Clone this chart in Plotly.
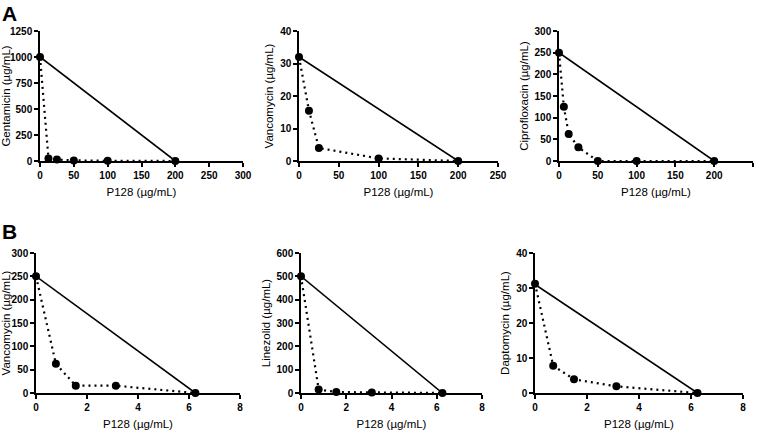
import plotly.graph_objects as go

W, H = 760, 430

# ---- data ----
# Panel A1: Gentamicin
a1_x = [0, 12.5, 25, 50, 100, 200]
a1_y = [1000, 25, 14, 6, 2, 0]
a1_line_x = [0, 200]
a1_line_y = [1000, 0]
# Panel A2: Vancomycin
a2_x = [0, 12.5, 25, 100, 200]
a2_y = [32, 15.5, 4, 0.8, 0]
a2_line_x = [0, 200]
a2_line_y = [32, 0]
# Panel A3: Ciprofloxacin
a3_x = [0, 6.25, 12.5, 25, 50, 100, 200]
a3_y = [250, 125, 62.5, 31.5, 0, 0, 0]
a3_line_x = [0, 200]
a3_line_y = [250, 0]
# Panel B1: Vancomycin
b1_x = [0, 0.78, 1.56, 3.13, 6.25]
b1_y = [250, 62.5, 15.6, 15.6, 0]
b1_line_x = [0, 6.25]
b1_line_y = [250, 0]
# Panel B2: Linezolid
b2_x = [0, 0.78, 1.56, 3.13, 6.25]
b2_y = [500, 15, 4, 2, 0]
b2_line_x = [0, 6.25]
b2_line_y = [500, 0]
# Panel B3: Daptomycin
b3_x = [0, 0.7, 1.5, 3.13, 6.25]
b3_y = [31.25, 7.8, 3.9, 1.9, 0]
b3_line_x = [0, 6.25]
b3_line_y = [31, 0]

x_title = "P128 (µg/mL)"
panels = [
    dict(dx=a1_x, dy=a1_y, lx=a1_line_x, ly=a1_line_y, ytitle="Gentamicin (µg/mL)",
         xr=[0, 300], xd=50, yr=[0, 1250], yd=250, px=(40, 243), py=(31, 161)),
    dict(dx=a2_x, dy=a2_y, lx=a2_line_x, ly=a2_line_y, ytitle="Vancomycin (µg/mL)",
         xr=[0, 250], xd=50, yr=[0, 40], yd=10, px=(299, 498), py=(31, 161)),
    dict(dx=a3_x, dy=a3_y, lx=a3_line_x, ly=a3_line_y, ytitle="Ciprofloxacin (µg/mL)",
         xr=[0, 250], xd=50, yr=[0, 300], yd=50, px=(559, 753), py=(31, 161)),
    dict(dx=b1_x, dy=b1_y, lx=b1_line_x, ly=b1_line_y, ytitle="Vancomycin (µg/mL)",
         xr=[0, 8], xd=2, yr=[0, 300], yd=50, px=(36, 240), py=(253, 393)),
    dict(dx=b2_x, dy=b2_y, lx=b2_line_x, ly=b2_line_y, ytitle="Linezolid (µg/mL)",
         xr=[0, 8], xd=2, yr=[0, 600], yd=100, px=(301, 482), py=(253, 393)),
    dict(dx=b3_x, dy=b3_y, lx=b3_line_x, ly=b3_line_y, ytitle="Daptomycin (µg/mL)",
         xr=[0, 8], xd=2, yr=[0, 40], yd=10, px=(535, 743), py=(253, 393)),
]

fig = go.Figure()
layout = {}
tickfont = dict(family="Liberation Sans, Arial, sans-serif", size=10, color="black", weight="bold")
titlefont = dict(family="Liberation Sans, Arial, sans-serif", size=11.5, color="black")

for i, p in enumerate(panels):
    n = i + 1
    xa = "x" if n == 1 else f"x{n}"
    ya = "y" if n == 1 else f"y{n}"
    fig.add_trace(go.Scatter(x=p["lx"], y=p["ly"], mode="lines",
                             line=dict(color="black", width=1.6),
                             xaxis=xa, yaxis=ya, showlegend=False, cliponaxis=False))
    fig.add_trace(go.Scatter(x=p["dx"], y=p["dy"], mode="lines+markers",
                             line=dict(color="black", width=2.2, dash="2px,4px"),
                             marker=dict(color="black", size=8),
                             xaxis=xa, yaxis=ya, showlegend=False, cliponaxis=False))
    xkey = "xaxis" if n == 1 else f"xaxis{n}"
    ykey = "yaxis" if n == 1 else f"yaxis{n}"
    layout[xkey] = dict(
        domain=[p["px"][0] / W, p["px"][1] / W], anchor=ya, automargin=False,
        range=p["xr"], dtick=p["xd"], tick0=0,
        showgrid=False, zeroline=False, showline=True, linecolor="black", linewidth=1.5,
        ticks="outside", ticklen=4, tickwidth=1.5, tickcolor="black",
        tickfont=tickfont, title=dict(text=x_title, font=titlefont, standoff=8),
    )
    layout[ykey] = dict(
        domain=[1 - p["py"][1] / H, 1 - p["py"][0] / H], anchor=xa, automargin=False,
        range=p["yr"], dtick=p["yd"], tick0=0,
        showgrid=False, zeroline=False, showline=True, linecolor="black", linewidth=1.5,
        ticks="outside", ticklen=4, tickwidth=1.5, tickcolor="black",
        tickfont=tickfont, title=dict(text=p["ytitle"], font=titlefont, standoff=4),
    )

fig.update_layout(
    width=W, height=H,
    margin=dict(l=0, r=0, t=0, b=0),
    paper_bgcolor="white", plot_bgcolor="white",
    annotations=[
        dict(text="<b>A</b>", x=0, y=1, xref="paper", yref="paper", xanchor="left", yanchor="top",
             showarrow=False, font=dict(family="Liberation Sans, Arial, sans-serif", size=21, color="black")),
        dict(text="<b>B</b>", x=0, y=1 - 218 / H, xref="paper", yref="paper", xanchor="left", yanchor="top",
             showarrow=False, font=dict(family="Liberation Sans, Arial, sans-serif", size=21, color="black")),
    ],
    **layout,
)

fig.write_html("out.html", config={"displayModeBar": False},
               post_script="document.body.style.margin='0px';document.body.style.overflow='hidden';")
